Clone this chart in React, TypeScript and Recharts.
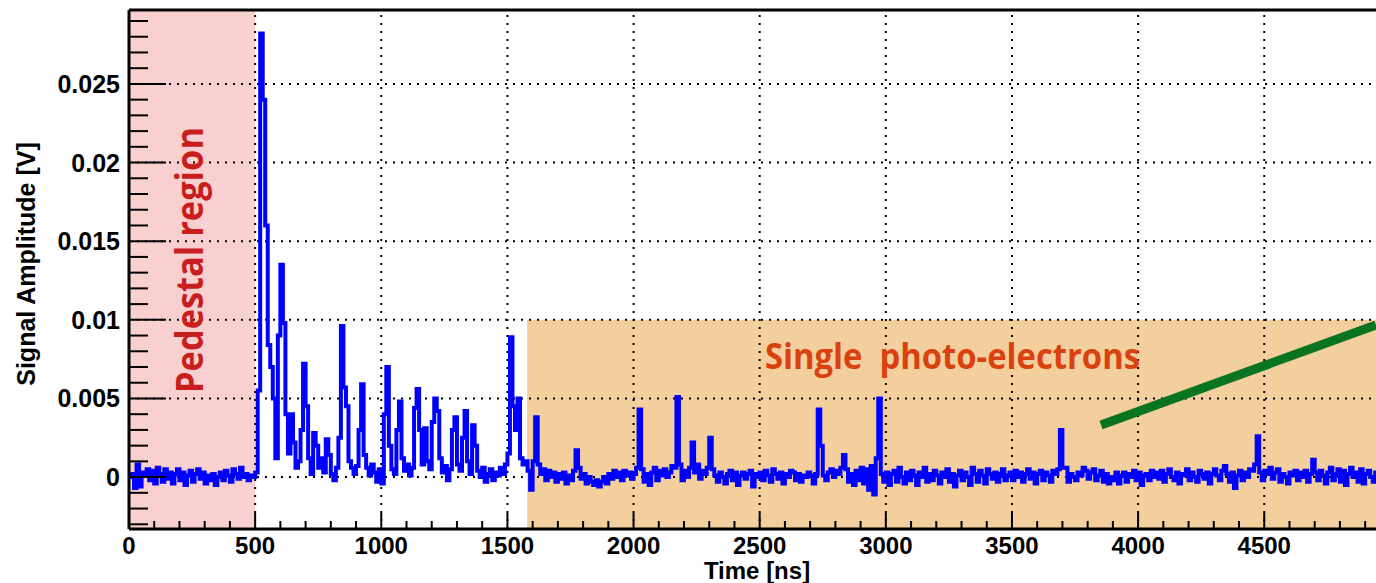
import React from "react";
import { LineChart, Line, XAxis, YAxis, ReferenceArea, ReferenceLine } from "recharts";

// waveform samples, one every 10 ns, in units of 0.1 mV
const STEP_NS = 10;
const pedestalSamples = {
  start: 0,
  values: [
    0, 2, -7, 8, -6, 3, 1, 5, -2, 4,
    -4, 6, 2, -3, 5, -1, 3, -4, 2, 5,
    -2, 3, -5, 1, 4, -3, 2, 5, -1, 3,
    -4, 1, -2, 2, -5, 0, 3, -2, 4, 1,
    -3, 5, 2, -1, 6, 0, 2, -2, 1, 0,
  ],
};
const burstSamples = {
  start: 500,
  values: [
    3, 55, 282, 240, 160, 84, 70, 50, 12, 90,
    135, 98, 40, 15, 40, 22, 6, 10, 30, 72,
    45, 12, 2, 28, 20, 6, 12, 3, 24, 14,
    2, -2, 6, 25, 96, 57, 45, 10, 6, 2,
    7, 30, 59, 14, 6, 1, 8, 3, -3, 5,
    -4, 40, 70, 20, 5, 2, 30, 48, 12, 4,
    8, 1, 6, 44, 56, 30, 8, 31, 10, 5,
    35, 50, 42, 12, 3, 7, -2, 5, 30, 38,
    8, 4, 25, 42, 10, 2, 33, 20, 4, 0,
    6, -3, 2, 5, -2, 3, 1, 6, 2, 8,
    15, 89, 45, 30, 50, 12, 8, 10, 4, -8,
  ],
};
const speSamplesA = {
  start: 1600,
  values: [
    10, 38, 8, 2, 5, -2, 4, 0, 3, -3,
    2, -1, 3, -4, 1, -2, 4, 17, 6, -1,
    2, -4, 0, -3, -5, -2, -6, -3, 0, -4,
    2, -1, 4, 0, 3, -2, 4, 1, 3, -1,
    2, 6, 43, 5, -3, 2, -5, 3, 6, -2,
    4, 1, 5, 0, 3, 7, 6, 51, 8, -2,
    4, 0, 6, 22, 3, 8, -1, 4, 2, 6,
    25, 5, 1, -3, 3, 0, -4, 2, 4, -2,
    3, -5, 1, 3, -1, 2, 4, -6, 2, 0,
  ],
};
const speSamplesB = {
  start: 2500,
  values: [
    3, -2, 4, 1, -3, 5, 2, -1, 3, -4,
    2, 0, 4, 3, -2, 2, -3, 1, 0, 3,
    1, -4, 2, 43, 20, 1, -2, 3, 5, 0,
    4, 2, 6, 14, 5, -3, 2, -5, 4, -2,
    6, -4, 5, -8, 7, -11, 12, 50, 2, -3,
    3, -5, 2, 4, -3, 6, 0, -4, 3, -2,
    4, 1, -5, 3, 0, 6, -3, 2, -2, 4,
    1, -4, 3, 0, 5, -3, 2, -6, 1, 4,
    -2, 3, 0, -5, 6, 2, -3, 4, 1, -4,
    5, 2, -1, 3, -3, 2, 5, -2, 1, 3,
  ],
};
const speSamplesC = {
  start: 3500,
  values: [
    -2, 4, 0, 3, -3, 2, 5, -1, 3, -4,
    2, 4, -2, 3, 1, -3, 4, 2, 5, 30,
    6, 6, -3, 2, 0, -2, 3, 1, 6, 4,
    -1, 3, 5, -2, 1, 4, -3, 2, -4, 0,
    -2, 3, -4, 1, 3, -3, 2, 0, 4, -2,
    3, -5, 1, 2, -2, 4, 0, 3, -1, 4,
    -3, 2, 5, 0, -2, 3, -4, 2, 1, 5,
    -2, 3, 0, -3, 4, 2, -1, 3, -4, 2,
    5, 1, -2, 4, 7, 2, -3, 3, -7, 1,
    4, -2, 3, 0, 5, 4, 8, 26, 3, -2,
    4, 2, 6, -1, 3, 5, -3, 2, 0, -4,
    3, 1, 4, -2, 3, 0, 4, -3, 2, 11,
    3, -2, 4, 1, -4, 3, 6, -2, 2, 5,
    -3, 4, -5, 2, 6, 0, 3, -3, 5, -4,
    2, 4, 0, -3, 3, 1,
  ],
};

const X_MAX = 4943;
const Y_MIN = -0.0033;
const Y_MAX = 0.0297;
const xMajor = [500, 1000, 1500, 2000, 2500, 3000, 3500, 4000, 4500];
const yMajor = [0, 0.005, 0.01, 0.015, 0.02, 0.025];
const pedestalRange = [0, 500];
const speRange = [1578, X_MAX];
const speTop = 0.01;
const arrow = [
  { x: 3853, y: 0.00331 },
  { x: X_MAX, y: 0.00967 },
];

const xTicks: number[] = [];
for (let t = 0; t < X_MAX; t += 100) xTicks.push(t);
const yTicks: number[] = [];
for (let i = -3; i <= 29; i++) yTicks.push(Number((i * 0.001).toFixed(3)));

const trace = [pedestalSamples, burstSamples, speSamplesA, speSamplesB, speSamplesC].flatMap((seg) =>
  seg.values.map((v, i) => ({ t: seg.start + i * STEP_NS, v: v * 1e-4 }))
);

const AXIS_FONT = "'Liberation Sans', Arial, Helvetica, sans-serif";
const LABEL_FONT = "'Open Sans', 'Noto Sans', sans-serif";

const isMajor = (v: number, step: number) => Math.abs(v / step - Math.round(v / step)) < 1e-6;

function YTick(props: any) {
  const { x, y, payload } = props;
  const major = isMajor(payload.value, 0.005);
  return (
    <g>
      <line x1={x} x2={x + (major ? 37 : 19)} y1={y} y2={y} stroke="#000" strokeWidth={2} />
      {major && (
        <text x={x - 9} y={y} dy={9} textAnchor="end" fontFamily={AXIS_FONT} fontWeight="bold" fontSize={25} fill="#000">
          {String(Number(payload.value.toFixed(3)))}
        </text>
      )}
    </g>
  );
}

function XTick(props: any) {
  const { x, y, payload } = props;
  const major = isMajor(payload.value, 500);
  return (
    <g>
      <line x1={x} x2={x} y1={y} y2={y - (major ? 16 : 8)} stroke="#000" strokeWidth={2} />
      {major && (
        <text x={x} y={y} dy={25} textAnchor="middle" fontFamily={AXIS_FONT} fontWeight="bold" fontSize={24} fill="#000">
          {payload.value}
        </text>
      )}
    </g>
  );
}

const gridStyle = { stroke: "#000", strokeWidth: 2, strokeDasharray: "2 6" };

export default function App() {
  return (
    <div style={{ position: "absolute", left: 0, top: 0, width: 1376, height: 583, background: "#fff", overflow: "hidden" }}>
      <LineChart width={1376} height={583} data={trace} margin={{ top: 10, right: 0, bottom: 0, left: 0 }}>
        <ReferenceArea x1={pedestalRange[0]} x2={pedestalRange[1]} y1={Y_MIN} y2={Y_MAX} fill="#f9d0d0" fillOpacity={1} stroke="none" />
        <ReferenceArea x1={speRange[0]} x2={speRange[1]} y1={Y_MIN} y2={speTop} fill="#f4cf9e" fillOpacity={1} stroke="none" />
        {xMajor.map((t) => (
          <ReferenceLine key={"x" + t} x={t} {...gridStyle} />
        ))}
        {yMajor.map((v) => (
          <ReferenceLine key={"y" + v} y={v} {...gridStyle} />
        ))}
        <XAxis
          dataKey="t"
          type="number"
          domain={[0, X_MAX]}
          allowDataOverflow
          ticks={xTicks}
          interval={0}
          tickSize={0}
          tickMargin={0}
          tick={<XTick />}
          height={54}
          axisLine={{ stroke: "#000", strokeWidth: 3 }}
        />
        <YAxis
          type="number"
          domain={[Y_MIN, Y_MAX]}
          allowDataOverflow
          ticks={yTicks}
          interval={0}
          tickSize={0}
          tickMargin={0}
          tick={<YTick />}
          width={129}
          axisLine={{ stroke: "#000", strokeWidth: 3 }}
        />
        <Line
          type="stepAfter"
          dataKey="v"
          stroke="#0000ff"
          strokeWidth={4}
          strokeLinejoin="miter"
          dot={false}
          activeDot={false}
          isAnimationActive={false}
        />
        <ReferenceLine y={Y_MAX} stroke="#000" strokeWidth={3} />
        <ReferenceLine segment={arrow} stroke="#0a7520" strokeWidth={9} />
      </LineChart>
      <svg width={1376} height={583} style={{ position: "absolute", left: 0, top: 0, pointerEvents: "none" }}>
        <text
          x={35}
          y={264}
          transform="rotate(-90 35 264)"
          textAnchor="middle"
          fontFamily={AXIS_FONT}
          fontWeight="bold"
          fontSize={25}
          fill="#000"
        >
          Signal Amplitude [V]
        </text>
        <text x={757} y={579} textAnchor="middle" fontFamily={AXIS_FONT} fontWeight="bold" fontSize={24} fill="#000">
          Time [ns]
        </text>
        <text
          x={203}
          y={393}
          transform="rotate(-90 203 393)"
          fontFamily={LABEL_FONT}
          fontWeight="bold"
          fontSize={37}
          fill="#c81e1e"
          textLength={266}
          lengthAdjust="spacingAndGlyphs"
        >
          Pedestal region
        </text>
        <text
          x={765}
          y={369}
          fontFamily={LABEL_FONT}
          fontWeight="bold"
          fontSize={36}
          fill="#d9420f"
          textLength={375}
          lengthAdjust="spacingAndGlyphs"
          style={{ whiteSpace: "pre" }}
        >
          Single  photo-electrons
        </text>
      </svg>
    </div>
  );
}
